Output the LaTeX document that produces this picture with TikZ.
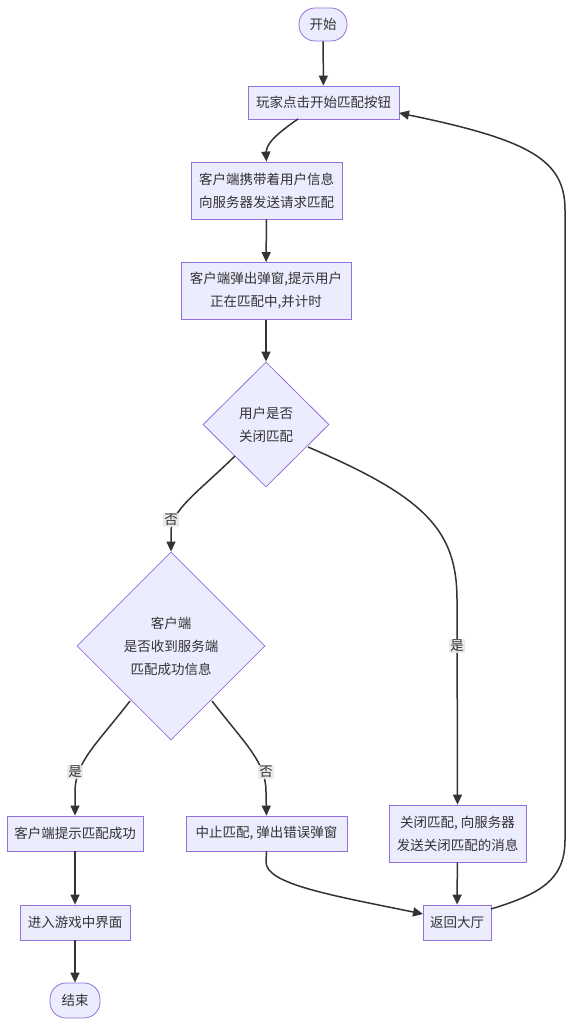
\documentclass[tikz,border=0pt]{standalone}
\usepackage{fontspec}
\setmainfont{Noto Sans CJK SC}
\usetikzlibrary{shapes.geometric,arrows.meta}
\definecolor{nodefill}{HTML}{ECECFF}
\definecolor{nodeline}{HTML}{9370DB}
\definecolor{ink}{HTML}{333333}
\definecolor{labelbg}{HTML}{E8E8E8}
\begin{document}
\begin{tikzpicture}[x=1pt,y=-1pt,
  every node/.style={text=ink,font=\fontsize{13.5pt}{23pt}\selectfont},
  base/.style={draw=nodeline,fill=nodefill,line width=0.8pt,inner sep=0pt,align=center},
  procbox/.style={base,rectangle},
  termbox/.style={base,rectangle,rounded corners=16pt},
  decide/.style={base,diamond,aspect=1},
  flow/.style={draw=ink,line width=1.5pt,-{Triangle[length=10pt,width=9pt]}},
  elabel/.style={fill=labelbg,fill opacity=0.9,text opacity=1,inner sep=1pt}
]
\useasboundingbox (0,0) rectangle (571,1032);

% nodes
\node[termbox,minimum width=48pt,minimum height=33pt] (start) at (323,24.5) {开始};
\node[procbox,minimum width=151pt,minimum height=33pt] (click) at (323.5,102.5) {玩家点击开始匹配按钮};
\node[procbox,minimum width=151pt,minimum height=57pt] (send) at (266.5,190.5) {客户端携带着用户信息\\向服务器发送请求匹配};
\node[procbox,minimum width=170pt,minimum height=57pt] (popup) at (266,291) {客户端弹出弹窗,提示用户\\正在匹配中,并计时};
\node[decide,minimum width=126pt,minimum height=125pt] (cancel) at (266,424.5) {用户是否\\关闭匹配};
\node[decide,minimum width=188pt,minimum height=188pt] (recv) at (171,646) {客户端\\是否收到服务端\\匹配成功信息};
\node[procbox,minimum width=136pt,minimum height=35pt] (ok) at (75,833.5) {客户端提示匹配成功};
\node[procbox,minimum width=161pt,minimum height=35pt] (err) at (266.5,833.5) {中止匹配, 弹出错误弹窗};
\node[procbox,minimum width=137pt,minimum height=57pt] (close) at (457.5,833.5) {关闭匹配, 向服务器\\发送关闭匹配的消息};
\node[procbox,minimum width=110pt,minimum height=35pt] (game) at (75,922.5) {进入游戏中界面};
\node[procbox,minimum width=68pt,minimum height=35pt] (lobby) at (457,922.5) {返回大厅};
\node[termbox,minimum width=50pt,minimum height=35pt] (stop) at (75,1000.5) {结束};

% helper points on node borders
\coordinate (c1) at (298,119);
\coordinate (d1l) at (235,456);
\coordinate (d1r) at (308,447);
\coordinate (d2l) at (130,701);
\coordinate (d2r) at (212,701);
\coordinate (lobr) at (491,909);
\coordinate (lobin) at (423,914);
\coordinate (clickin) at (399,113);

% connectors
\draw[flow] (start) -- (click);
\draw[flow] (c1) .. controls (272,137) and (266,145) .. (266,154) -- (send.north);
\draw[flow] (send) -- (popup);
\draw[flow] (popup) -- (cancel.north);
\draw[flow] (d1l) .. controls (196,494) and (171,510) .. (171,532) -- (recv.north);
\draw[flow] (d1r) .. controls (425,497) and (457,530) .. (457,600) -- (close.north);
\draw[flow] (d2l) .. controls (96,745) and (75,762) .. (75,792) -- (ok.north);
\draw[flow] (d2r) .. controls (246,745) and (266,762) .. (266,792) -- (err.north);
\draw[flow] (ok) -- (game);
\draw[flow] (game) -- (stop);
\draw[flow] (close) -- (lobby);
\draw[flow] (err.south) -- (266,862) .. controls (266,884) and (330,895) .. (lobin);
\draw[flow] (lobr) .. controls (540,894) and (565,880) .. (565,840) -- (565,210)
  .. controls (565,160) and (530,140) .. (clickin);

% edge labels
\node[elabel] (n1) at (171,520) {否};
\node[elabel] (y1) at (457,646) {是};
\node[elabel] (y2) at (75,772) {是};
\node[elabel] (n2) at (266,772) {否};
\end{tikzpicture}
\end{document}
